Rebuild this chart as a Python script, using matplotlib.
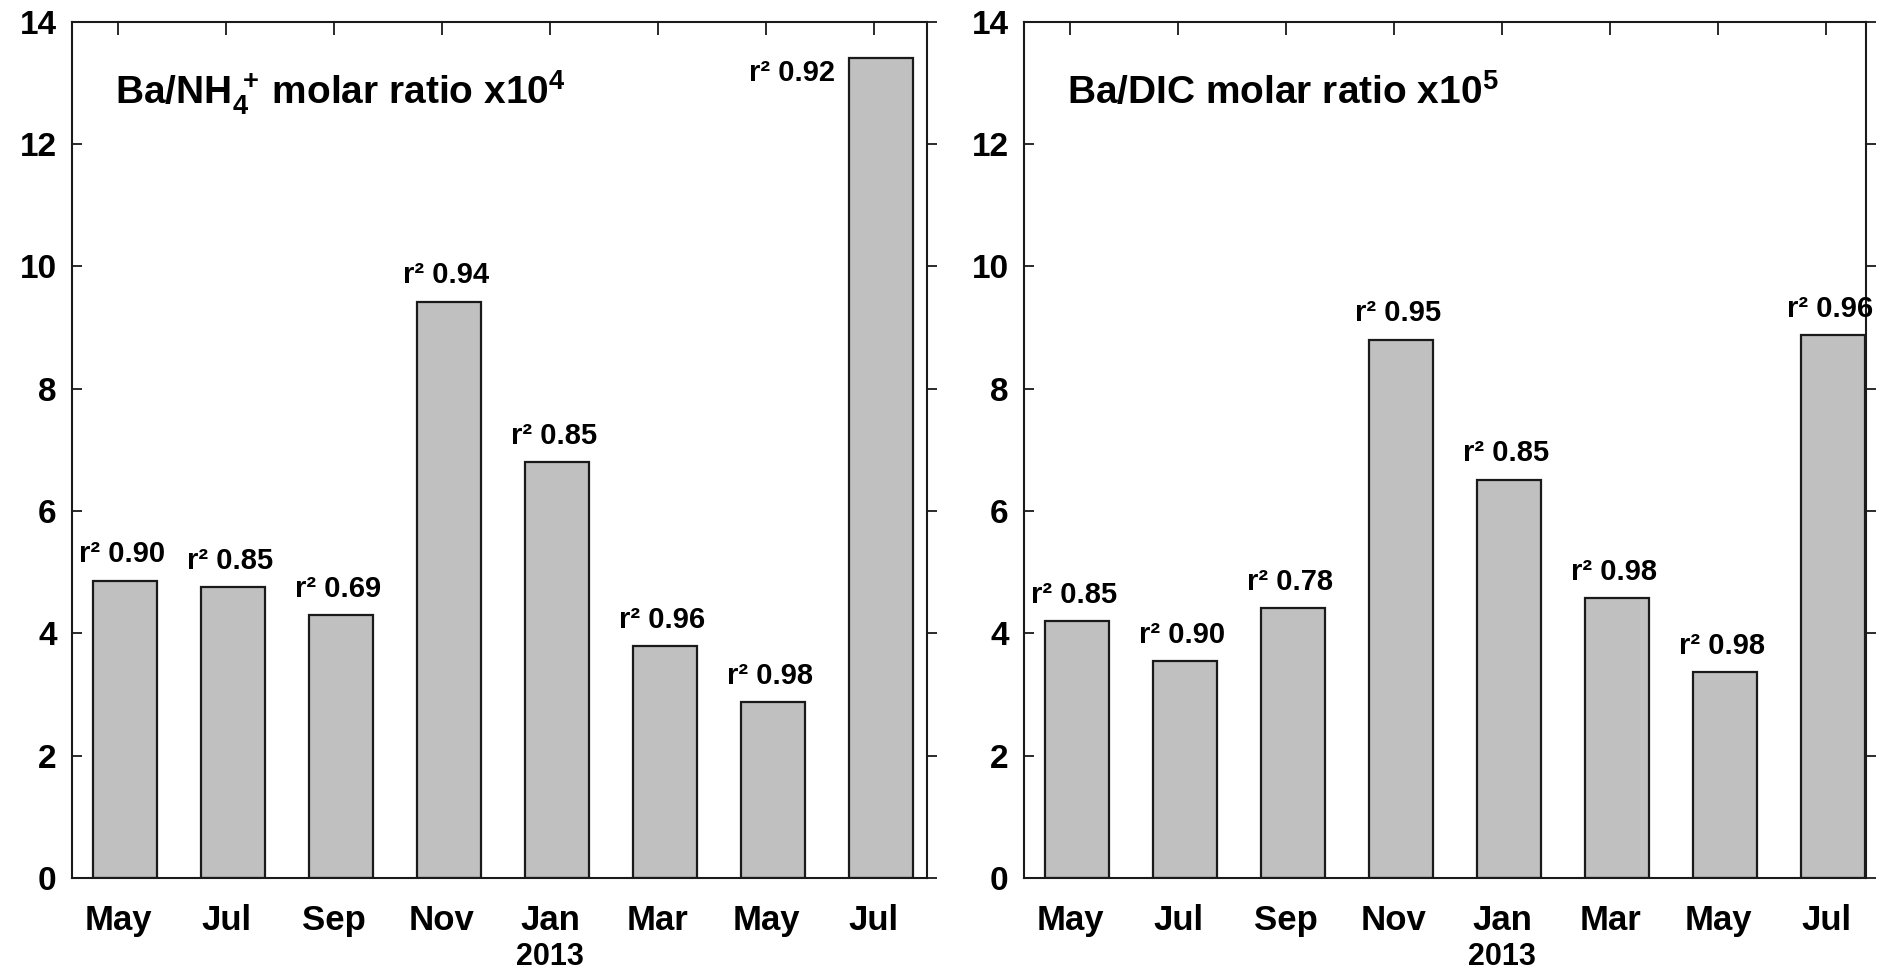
import matplotlib
matplotlib.use('Agg')
import matplotlib.pyplot as plt
from matplotlib.transforms import blended_transform_factory

# ---- data ----
months = ['May', 'Jul', 'Sep', 'Nov', 'Jan', 'Mar', 'May', 'Jul']
year_label = '2013'
year_index = 4
ba_nh4 = [4.86, 4.75, 4.30, 9.42, 6.80, 3.79, 2.87, 13.41]
ba_nh4_r2 = ['0.90', '0.85', '0.69', '0.94', '0.85', '0.96', '0.98', '0.92']
ba_dic = [4.20, 3.55, 4.41, 8.80, 6.51, 4.57, 3.36, 8.87]
ba_dic_r2 = ['0.85', '0.90', '0.78', '0.95', '0.85', '0.98', '0.98', '0.96']
yticks = [0, 2, 4, 6, 8, 10, 12, 14]
titles = ['Ba/NH$_4^{\\,+}\\,$molar ratio x10$^4$', 'Ba/DIC molar ratio x10$^5$']

plt.rcParams['font.family'] = ['Liberation Sans', 'DejaVu Sans']
plt.rcParams['font.weight'] = 'bold'
plt.rcParams['mathtext.default'] = 'regular'

W, H = 1877, 971
fig = plt.figure(figsize=(W / 100, H / 100), dpi=100)

def px_axes(x0, x1, y0, y1):
    return fig.add_axes([x0 / W, 1 - y1 / H, (x1 - x0) / W, (y1 - y0) / H])

ax_l = px_axes(72, 927, 21.7, 878)
ax_r = px_axes(1024, 1866, 21.7, 878)

panels = [
    (ax_l, ba_nh4, ba_nh4_r2, titles[0], (-0.426, 7.491), 0.0503),
    (ax_r, ba_dic, ba_dic_r2, titles[1], (-0.426, 7.370), 0.0511),
]

x = list(range(len(months)))
bar_off = 0.065
bar_w = 0.59

for ax, vals, r2, title, xlim, tx in panels:
    xb = [i + bar_off for i in x]
    ax.bar(xb, vals, width=bar_w, color='#c0c0c0', edgecolor='#1a1a1a',
           linewidth=1.6, zorder=2)
    ax.set_xlim(*xlim)
    ax.set_ylim(0, 14)
    ax.set_yticks(yticks)
    ax.set_yticklabels([str(t) for t in yticks])
    ax.set_xticks(x)
    ax.set_xticklabels(months)
    for s in ax.spines.values():
        s.set_linewidth(1.5)
        s.set_color('#1a1a1a')
    ax.tick_params(axis='y', left=True, right=False, direction='in',
                   length=7, width=1.3, labelsize=24, pad=11, color='#1a1a1a')
    ax.tick_params(axis='x', bottom=False, top=True, direction='in',
                   length=9, width=1.3, labelsize=25, pad=19, color='#1a1a1a')
    sec = ax.secondary_yaxis('right')
    sec.set_yticks(yticks)
    sec.tick_params(direction='out', length=7, width=1.3, labelright=False,
                    color='#1a1a1a')
    sec.spines['right'].set_visible(False)

    ax.text(tx, 0.904, title, transform=ax.transAxes, fontsize=28,
            fontweight='bold', ha='left', va='baseline')

    trans = blended_transform_factory(ax.transData, ax.transAxes)
    ax.text(year_index, -0.075, year_label, transform=trans, fontsize=22,
            fontweight='bold', ha='center', va='top')

    for i, (v, r) in enumerate(zip(vals, r2)):
        lab = 'r\u00b2 ' + r
        if ax is ax_l and i == len(vals) - 1:
            ax.annotate(lab, xy=(xb[i] - bar_w / 2, v), xytext=(-10, -16.5),
                        textcoords='offset points', ha='right', va='baseline',
                        fontsize=21, fontweight='bold', annotation_clip=False)
        else:
            ax.annotate(lab, xy=(xb[i], v), xytext=(-2, 13.2),
                        textcoords='offset points', ha='center', va='baseline',
                        fontsize=21, fontweight='bold', annotation_clip=False,
                        clip_on=False)

fig.savefig('out.png', dpi=100)
